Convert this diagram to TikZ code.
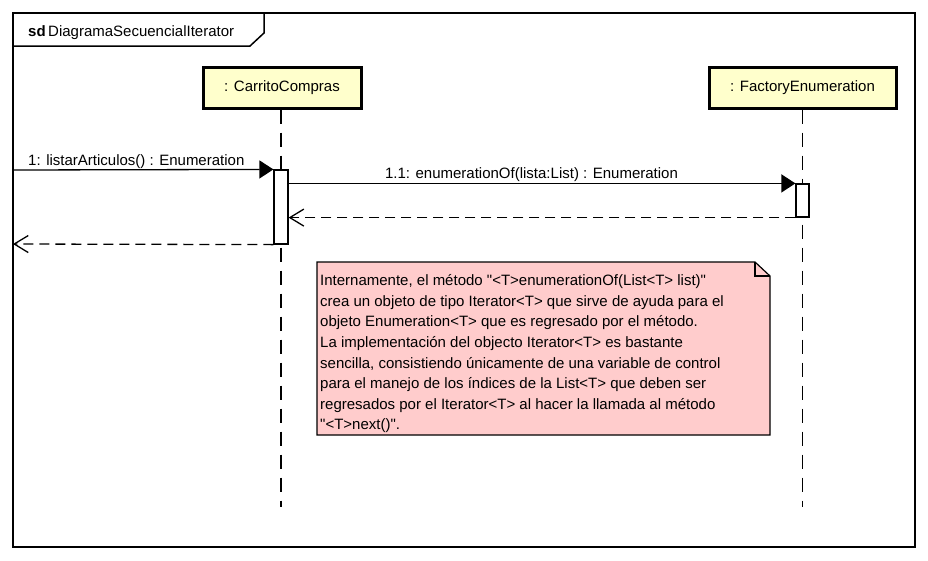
\documentclass[tikz,border=0pt]{standalone}
\usepackage{fontspec}
\setmainfont{Liberation Sans}
\newfontfamily\plainsans{Liberation Sans}
\usetikzlibrary{arrows.meta}
\definecolor{lifefill}{RGB}{255,255,204}
\definecolor{notefill}{RGB}{255,204,204}
\newcommand{\sq}{{\plainsans\symbol{34}}}
\begin{document}
\begin{tikzpicture}[x=1pt,y={(0pt,-1pt)},font=\plainsans\fontsize{15}{18}\selectfont]
\tikzset{
 lifebox/.style={draw,line width=3pt,fill=lifefill,minimum height=41pt,inner sep=0pt},
 lifeline/.style={line width=1.3pt,dash pattern=on 14pt off 9pt},
 actbox/.style={draw,line width=1.2pt,fill=white,inner sep=0pt},
 callmsg/.style={line width=1.3pt,-{Triangle[length=14pt,width=18pt]}},
 retmsg/.style={line width=1.3pt,dash pattern=on 10pt off 6pt,-{Straight Barb[length=14pt,width=17pt,line width=1.3pt]}},
 lbl/.style={inner sep=0pt},
 framebox/.style={line width=1.5pt},
 notebox/.style={line width=1.2pt,fill=notefill},
}
\useasboundingbox[fill=white] (0,0) rectangle (928,560);
% frame
\draw[framebox] (13,13) rectangle (915,547);
\draw[framebox] (13,46) -- (250,46) -- (264,33) -- (264,13);
\node[lbl,anchor=base west] (title) at (28,36) {\textbf{sd}\,DiagramaSecuencialIterator};
% lifelines
\node[lifebox,minimum width=158pt] (carrito) at (282,87.5) {: CarritoCompras};
\node[lifebox,minimum width=187pt] (factory) at (802.5,87.5) {: FactoryEnumeration};
\coordinate (cEnd) at (281,507);
\coordinate (fEnd) at (802.5,507);
\draw[lifeline] (carrito.south -| cEnd) -- (cEnd);
\draw[lifeline] (factory.south) -- (fEnd);
% activations
\node[actbox,minimum width=14pt,minimum height=74pt] (act1) at (281,207) {};
\node[actbox,minimum width=13pt,minimum height=33pt] (act2) at (802.5,200.5) {};
% found message and actor bar
\coordinate (src) at (13,170);
\coordinate (srcEnd) at (13,268);
\coordinate (retEnd) at (13,244);
\draw[line width=2.5pt] (src) -- (srcEnd);
\draw[callmsg] (src) -- (act1.north west);
\node[lbl,anchor=base west] (m1) at (28,165) {1: listarArticulos() : Enumeration};
\draw[callmsg] (act1.east |- act2.north) -- (act2.north west);
\node[lbl,anchor=base] (m11) at (531.5,178) {1.1: enumerationOf(lista:List) : Enumeration};
\draw[retmsg] (act2.south west) -- (act1.east |- act2.south);
\draw[retmsg] (act1.south west) -- (retEnd);
% note
\draw[notebox] (317,262) -- (755,262) -- (770,276) -- (770,435) -- (317,435) -- cycle;
\draw[line width=1.2pt] (755,262) -- (755,276) -- (770,276);
\node[lbl,anchor=north west,align=left,font=\plainsans\fontsize{15}{20.6}\selectfont] (note) at (320,274.5) {Internamente, el método \sq<T>enumerationOf(List<T> list)\sq\\
crea un objeto de tipo Iterator<T> que sirve de ayuda para el\\
objeto Enumeration<T> que es regresado por el método.\\
La implementación del objecto Iterator<T> es bastante\\
sencilla, consistiendo únicamente de una variable de control\\
para el manejo de los índices de la List<T> que deben ser\\
regresados por el Iterator<T> al hacer la llamada al método\\
\sq<T>next()\sq.};
\end{tikzpicture}
\end{document}
